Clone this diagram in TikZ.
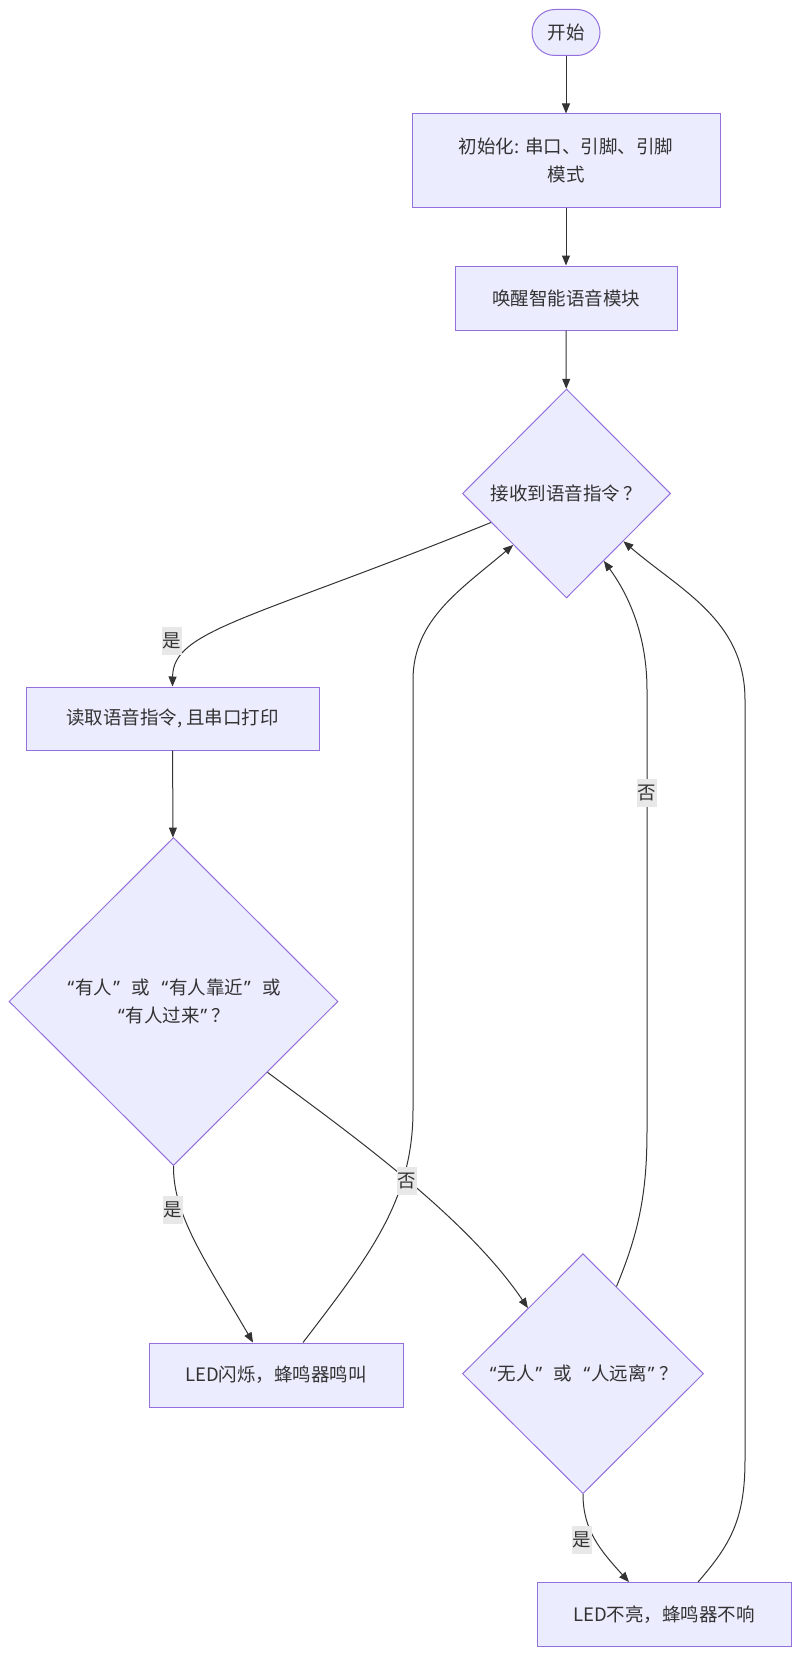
\documentclass[tikz,border=0pt]{standalone}
\usepackage{fontspec}
\setmainfont{Noto Sans CJK SC}
\newfontfamily\quotefont{Noto Sans}
\newcommand{\oq}{\hspace{1.5pt}{\quotefont “}\hspace{1pt}}
\newcommand{\cq}{\hspace{1pt}{\quotefont ”}\hspace{1.5pt}}
\newcommand{\wsp}{\hspace{10pt}}
\usetikzlibrary{shapes.geometric,arrows.meta}
\definecolor{nodefill}{HTML}{ECECFF}
\definecolor{nodeline}{HTML}{9370DB}
\definecolor{edgecol}{HTML}{333333}
\definecolor{lblbg}{HTML}{E8E8E8}
\begin{document}
\begin{tikzpicture}[x=1pt,y=-1pt,
 every node/.style={font=\fontsize{18.5}{28.5}\selectfont, text=edgecol},
 box/.style={draw=nodeline, fill=nodefill, line width=1pt, rectangle, inner sep=0pt, align=center},
 startbox/.style={box, rounded corners=23pt, minimum width=68pt, minimum height=46pt},
 decision/.style={draw=nodeline, fill=nodefill, line width=1pt, diamond, inner sep=0pt, align=center},
 flow/.style={draw=edgecol, line width=1pt, -{Triangle[length=10pt,width=8pt]}},
 lbl/.style={fill=lblbg, inner xsep=1pt, inner ysep=0pt, minimum height=28pt}
]
\useasboundingbox (0,0) rectangle (800,1656);
\fill[white] (0,0) rectangle (800,1656);

\node[startbox] (start) at (566,32.5) {开始};
\node[box, minimum width=308pt, minimum height=93pt] (init) at (566,160.5) {初始化: 串口、引脚、引脚\\模式};
\node[box, minimum width=222pt, minimum height=64pt] (wake) at (566,298) {唤醒智能语音模块};
\node[decision, minimum width=208pt, minimum height=209pt] (d1) at (566.5,493.5) {接收到语音指令\,？};
\node[box, minimum width=293pt, minimum height=63pt] (read) at (172.5,718.5) {读取语音指令, 且串口打印};
\node[decision, minimum width=329pt, minimum height=328pt] (d2) at (173.5,1001.5) {\oq 有人\cq\wsp 或\wsp\oq 有人靠近\cq\wsp 或\\\oq 有人过来\cq\,？};
\node[box, minimum width=254pt, minimum height=64pt] (led1) at (276,1375) {LED闪烁，蜂鸣器鸣叫};
\node[decision, minimum width=241pt, minimum height=240pt] (d3) at (583,1373.7) {\oq 无人\cq\wsp 或\wsp\oq 人远离\cq\,？};
\node[box, minimum width=254pt, minimum height=64pt] (led2) at (664,1614.5) {LED不亮，蜂鸣器不响};

\draw[flow] (start) -- (init);
\draw[flow] (init) -- (wake);
\draw[flow] (wake) -- (d1);
\draw[flow] (d1.201) .. controls (250,620) and (173,630) .. (read.north);
\draw[flow] (read) -- (d2);
\draw[flow] (d2.south) .. controls (173,1215) and (205,1260) .. ([xshift=-23pt]led1.north);
\draw[flow] (d2.323) .. controls (345,1130) and (465,1215) .. (d3.130);
\draw[flow] ([xshift=27pt]led1.north) .. controls (370,1255) and (413,1200) .. (413,1110) -- (413,680) .. controls (413,620) and (460,590) .. (d1.224);
\draw[flow] (d3.69) .. controls (640,1230) and (647,1190) .. (647,1130) -- (647,690) .. controls (647,630) and (625,590) .. (d1.299);
\draw[flow] (d3.south) .. controls (583,1530) and (600,1550) .. ([xshift=-35pt]led2.north);
\draw[flow] ([xshift=34pt]led2.north) .. controls (730,1545) and (745,1520) .. (745,1460) -- (745,700) .. controls (745,620) and (680,590) .. (d1.320);

\node[lbl] (l1) at (172,641) {是};
\node[lbl] (l2) at (173,1210) {是};
\node[lbl] (l3) at (407,1181) {否};
\node[lbl] (l4) at (647,793) {否};
\node[lbl] (l5) at (582,1540) {是};
\end{tikzpicture}
\end{document}
